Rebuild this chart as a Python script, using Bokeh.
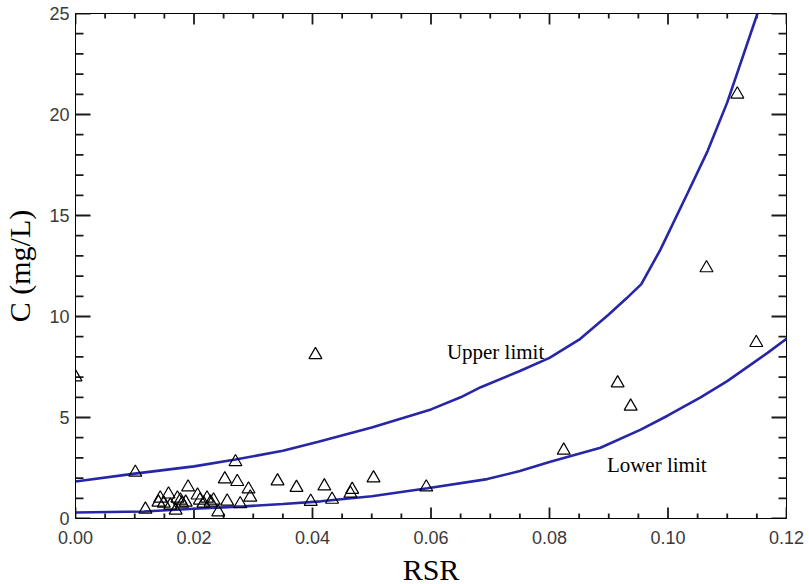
import math
import numpy as np
from bokeh.plotting import figure
from bokeh.models import (ColumnDataSource, SingleIntervalTicker,
                          NumeralTickFormatter, Range1d)
from bokeh.core.properties import value
from bokeh.embed import file_html
from bokeh.resources import INLINE

# Observed concentration vs RSR
rsr = [0.0, 0.0101, 0.0405, 0.027, 0.0341, 0.0373, 0.042, 0.0467, 0.0464,
       0.0503, 0.0592, 0.0397, 0.0433, 0.0824, 0.0915, 0.0937, 0.1065,
       0.1117, 0.1149,
       0.0118, 0.0252, 0.0273, 0.019, 0.0157, 0.0206, 0.0292, 0.0295,
       0.0256, 0.0278, 0.0241, 0.014, 0.0149, 0.016, 0.0169, 0.0177,
       0.018, 0.0186, 0.0222, 0.0228, 0.0233, 0.0216, 0.021, 0.0172,
       0.0143]
conc = [7.0, 2.28, 8.1, 2.8, 1.85, 1.53, 1.6, 1.43, 1.24,
        2.0, 1.55, 0.84, 0.94, 3.37, 6.7, 5.55, 12.4,
        21.0, 8.7,
        0.45, 1.95, 1.82, 1.55, 1.2, 1.15, 1.45, 1.05,
        0.85, 0.72, 0.32, 0.8, 0.75, 0.65, 0.4, 0.9,
        0.75, 0.8, 1.0, 0.8, 0.9, 0.75, 0.9, 1.0,
        1.0]

# Upper and lower limit curves
upper_x = [0.000, 0.010, 0.020, 0.027, 0.035, 0.041, 0.050, 0.055, 0.060,
           0.065, 0.0684, 0.075, 0.080, 0.085, 0.090, 0.093, 0.0955, 0.0987,
           0.1033, 0.1067, 0.110, 0.1151]
upper_c = [1.83, 2.22, 2.58, 2.92, 3.35, 3.8, 4.5, 4.95, 5.4,
           6.0, 6.5, 7.3, 7.95, 8.85, 10.1, 10.9, 11.6, 13.3,
           16.1, 18.2, 20.6, 25.0]
lower_x = [0.000, 0.0115, 0.020, 0.0284, 0.035, 0.0414, 0.050, 0.0594,
           0.0695, 0.075, 0.080, 0.083, 0.0886, 0.0954, 0.100, 0.1055,
           0.110, 0.1168, 0.120]
lower_c = [0.30, 0.35, 0.48, 0.6, 0.72, 0.85, 1.1, 1.5,
           1.95, 2.35, 2.8, 3.05, 3.5, 4.4, 5.1, 6.0,
           6.8, 8.2, 8.9]

labels = ["Upper limit", "Lower limit"]
label_x = [0.0709, 0.0981]
label_y = [8.25, 2.67]

# Tick positions for the boxed frame
x_major = [0.0, 0.02, 0.04, 0.06, 0.08, 0.10, 0.12]
y_major = [0.0, 5.0, 10.0, 15.0, 20.0, 25.0]
x_minor = [float(v) for v in np.round(np.arange(0, 0.1201, 0.005), 4)
           if all(abs(v - m) > 1e-9 for m in x_major)]
y_minor = [float(v) for v in range(0, 26) if v % 5]

X0, X1, Y0, Y1 = 0.0, 0.12, 0.0, 25.0

LINE = "#2626a6"
TICK = "#1a1a1a"
SERIF = "Liberation Serif"
SANS = "Liberation Sans"

p = figure(frame_width=711, frame_height=505, output_backend="svg",
           toolbar_location=None, x_range=Range1d(X0, X1),
           y_range=Range1d(Y0, Y1), min_border_left=75, min_border_right=23,
           min_border_top=13, min_border_bottom=66,
           x_axis_label="RSR", y_axis_label="C (mg/L)")
p.grid.visible = False
p.outline_line_color = "black"
p.outline_line_width = 1
p.background_fill_color = "white"
p.border_fill_color = "white"

for ax in p.xaxis + p.yaxis:
    ax.axis_line_color = "black"
    ax.major_tick_in = 0
    ax.major_tick_out = 0
    ax.minor_tick_in = 0
    ax.minor_tick_out = 0
    ax.major_label_text_font = SANS
    ax.major_label_text_font_size = "18px"
    ax.major_label_text_color = "#3a3a3a"
    ax.axis_label_text_font = SERIF
    ax.axis_label_text_font_style = "normal"
    ax.axis_label_text_font_size = "30px"
    ax.axis_label_text_color = "black"

p.xaxis.ticker = SingleIntervalTicker(interval=0.02, num_minor_ticks=4)
p.xaxis.formatter = NumeralTickFormatter(format="0.00")
p.yaxis.ticker = SingleIntervalTicker(interval=5, num_minor_ticks=5)
p.xaxis.major_label_standoff = 12
p.xaxis.axis_label_standoff = 6
p.yaxis.major_label_standoff = 6
p.yaxis.axis_label_standoff = 10

# Inward ticks on all four sides: dash markers centred on the frame edge,
# the outer half is clipped away by the frame.
def edge_ticks(xs, ys, length, vertical):
    p.scatter(x=xs, y=ys, marker="dash", size=2 * length,
              angle=(math.pi / 2 if vertical else 0.0),
              line_color=TICK, line_width=1.8)


edge_ticks(x_major + x_major, [Y0] * 7 + [Y1] * 7, 11, True)
edge_ticks(x_minor + x_minor, [Y0] * len(x_minor) + [Y1] * len(x_minor),
           5, True)
edge_ticks([X0] * 6 + [X1] * 6, y_major + y_major, 15, False)
edge_ticks([X0] * len(y_minor) + [X1] * len(y_minor), y_minor + y_minor,
           8, False)

p.line(upper_x, upper_c, line_color=LINE, line_width=2.6)
p.line(lower_x, lower_c, line_color=LINE, line_width=2.6)

pts = ColumnDataSource(dict(x=rsr, y=conc))
p.scatter("x", "y", source=pts, marker="triangle", size=13,
          fill_color=None, line_color="black", line_width=1.2)

lab = ColumnDataSource(dict(x=label_x, y=label_y, t=labels))
p.text("x", "y", text="t", source=lab, text_font=value(SERIF),
       text_font_size="21px", text_align="center", text_baseline="middle",
       text_color="black")

open("out.html", "w").write(file_html(p, INLINE))
